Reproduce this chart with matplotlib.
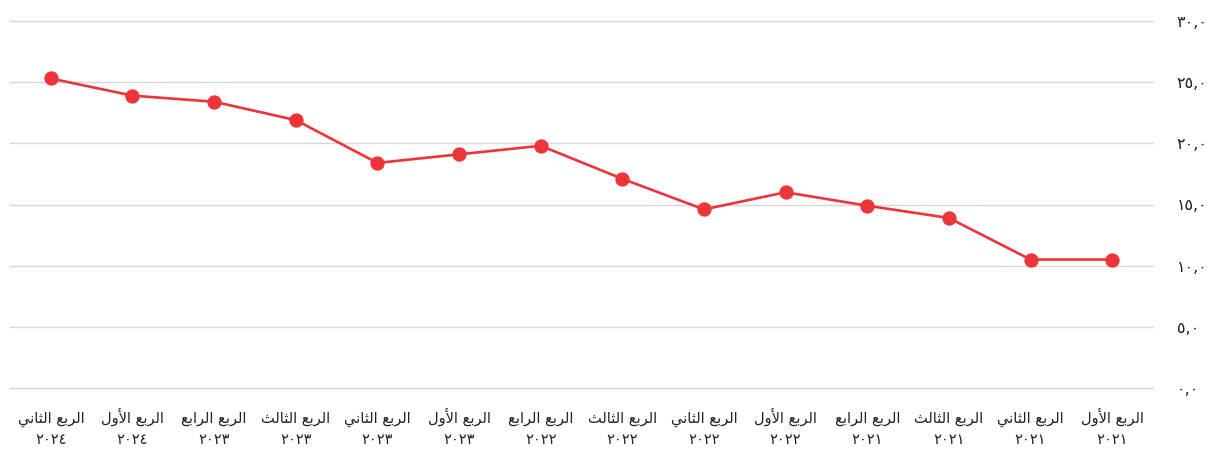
import matplotlib
matplotlib.use("Agg")
import matplotlib.pyplot as plt
import matplotlib.transforms as mtransforms

# ---- data (chronological order) ----
quarters = ["الربع الأول", "الربع الثاني", "الربع الثالث", "الربع الرابع",
            "الربع الأول", "الربع الثاني", "الربع الثالث", "الربع الرابع",
            "الربع الأول", "الربع الثاني", "الربع الثالث", "الربع الرابع",
            "الربع الأول", "الربع الثاني"]
years = ["٢٠٢١", "٢٠٢١", "٢٠٢١", "٢٠٢١",
         "٢٠٢٢", "٢٠٢٢", "٢٠٢٢", "٢٠٢٢",
         "٢٠٢٣", "٢٠٢٣", "٢٠٢٣", "٢٠٢٣",
         "٢٠٢٤", "٢٠٢٤"]
values = [10.5, 10.5, 13.9, 14.9, 16.0, 14.6, 17.1, 19.8, 19.1, 18.4, 21.9, 23.4, 23.9, 25.3]
y_ticks = [0, 5, 10, 15, 20, 25, 30]
y_tick_labels = ["٠,٠", "٥,٠", "١٠,٠", "١٥,٠", "٢٠,٠", "٢٥,٠", "٣٠,٠"]

# ---- minimal Arabic shaping (matplotlib has no complex text layout) ----
FORMS = {  # isolated, final, initial, medial
    "\u0627": ("\uFE8D", "\uFE8E", None, None),
    "\u0623": ("\uFE83", "\uFE84", None, None),
    "\u0628": ("\uFE8F", "\uFE90", "\uFE91", "\uFE92"),
    "\u062A": ("\uFE95", "\uFE96", "\uFE97", "\uFE98"),
    "\u062B": ("\uFE99", "\uFE9A", "\uFE9B", "\uFE9C"),
    "\u0631": ("\uFEAD", "\uFEAE", None, None),
    "\u0639": ("\uFEC9", "\uFECA", "\uFECB", "\uFECC"),
    "\u0644": ("\uFEDD", "\uFEDE", "\uFEDF", "\uFEE0"),
    "\u0646": ("\uFEE5", "\uFEE6", "\uFEE7", "\uFEE8"),
    "\u064A": ("\uFEF1", "\uFEF2", "\uFEF3", "\uFEF4"),
    "\u0648": ("\uFEED", "\uFEEE", None, None),
    "LA": ("\uFEFB", "\uFEFC", None, None),
    "LAH": ("\uFEF7", "\uFEF8", None, None),
}


def shape(text):
    units = []
    i = 0
    while i < len(text):
        c = text[i]
        if c == "\u0644" and i + 1 < len(text) and text[i + 1] in ("\u0627", "\u0623"):
            units.append("LA" if text[i + 1] == "\u0627" else "LAH")
            i += 2
        else:
            units.append(c)
            i += 1
    out = []
    for k, u in enumerate(units):
        if u not in FORMS:
            out.append(u)
            continue
        prev = units[k - 1] if k > 0 else None
        nxt = units[k + 1] if k + 1 < len(units) else None
        jp = prev in FORMS and FORMS[prev][2] is not None
        jn = FORMS[u][2] is not None and nxt in FORMS
        iso, fin, ini, med = FORMS[u]
        if jp and jn:
            out.append(med)
        elif jp:
            out.append(fin)
        elif jn:
            out.append(ini)
        else:
            out.append(iso)
    return "".join(out)[::-1]


# ---- figure ----
W, H = 1212, 451
fig = plt.figure(figsize=(W / 100, H / 100), dpi=100)
ax = fig.add_axes([10 / W, 1 - 388 / H, (1153 - 10) / W, (388 - 21) / H])

x = list(range(len(values)))
ax.plot(x, values, color="#ec3439", linewidth=1.9, marker="o", markersize=9.3,
        markerfacecolor="#ec3439", markeredgecolor="#ec3439", zorder=3)

ax.set_xlim(len(values) - 0.5, -0.5)
ax.set_ylim(0, 30)
ax.set_yticks(y_ticks)
ax.set_yticklabels(y_tick_labels)
ax.set_xticks(x)
ax.set_xticklabels([""] * len(x))
ax.yaxis.tick_right()
ax.tick_params(axis="y", length=0, pad=17, labelsize=11.5, colors="#222222")
ax.tick_params(axis="x", length=0)
for lab in ax.get_yticklabels():
    lab.set_family(["DejaVu Sans"])
ax.grid(axis="y", color="#d6d6d6", linewidth=1)
for gl in ax.get_ygridlines():
    gl.set_clip_on(False)
ax.set_axisbelow(True)
for s in ax.spines.values():
    s.set_visible(False)

# two-row category labels placed by data x, fixed pixel rows
trans = mtransforms.blended_transform_factory(ax.transData, fig.transFigure)
for xi, q, yr in zip(x, quarters, years):
    ax.text(xi, 1 - 423 / H, shape(q), transform=trans, ha="center", va="baseline",
            fontsize=10.5, color="#222222", family=["DejaVu Sans"], clip_on=False)
    ax.text(xi, 1 - 444 / H, yr, transform=trans, ha="center", va="baseline",
            fontsize=10.5, color="#222222", family=["DejaVu Sans"], clip_on=False)

fig.savefig("out.png", dpi=100, facecolor="white")
